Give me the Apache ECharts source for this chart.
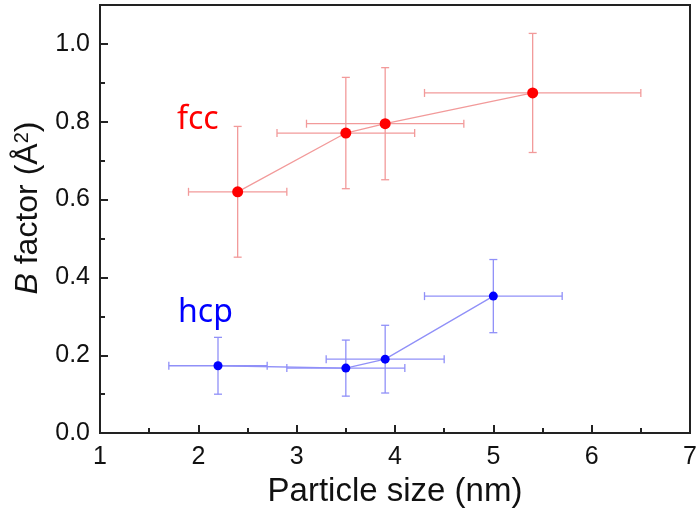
<!DOCTYPE html>
<html><head><meta charset="utf-8">
<script src="https://cdn.jsdelivr.net/npm/echarts@6/dist/echarts.min.js"></script>
<style>html,body{margin:0;padding:0;background:#fff}#c{width:700px;height:513px}</style>
</head><body><div id="c"></div>
<script>
const xTicks = [1, 2, 3, 4, 5, 6, 7];
const yTicks = [0.0, 0.2, 0.4, 0.6, 0.8, 1.0];

const fccX    = [2.4, 3.5, 3.9, 5.4];
const fccY    = [0.62, 0.771, 0.795, 0.874];
const fccXErr = [0.5, 0.7, 0.8, 1.1];
const fccYErr = [0.168, 0.143, 0.144, 0.153];

const hcpX    = [2.2, 3.5, 3.9, 5.0];
const hcpY    = [0.173, 0.167, 0.19, 0.352];
const hcpXErr = [0.5, 0.6, 0.6, 0.7];
const hcpYErr = [0.073, 0.072, 0.087, 0.094];

function errData(xs, ys, xe, ye) {
  return xs.map((x, i) => [x, ys[i], x - xe[i], x + xe[i], ys[i] - ye[i], ys[i] + ye[i]]);
}
function errRender(color) {
  return function (params, api) {
    const c = api.coord([api.value(0), api.value(1)]);
    const xl = api.coord([api.value(2), api.value(1)]);
    const xr = api.coord([api.value(3), api.value(1)]);
    const yl = api.coord([api.value(0), api.value(4)]);
    const yh = api.coord([api.value(0), api.value(5)]);
    const st = { stroke: color, lineWidth: 1.3 };
    const cap = 4;
    const L = (x1, y1, x2, y2) => ({ type: 'line', shape: { x1, y1, x2, y2 }, style: st });
    return {
      type: 'group',
      children: [
        L(xl[0], c[1], xr[0], c[1]),
        L(xl[0], c[1] - cap, xl[0], c[1] + cap),
        L(xr[0], c[1] - cap, xr[0], c[1] + cap),
        L(c[0], yl[1], c[0], yh[1]),
        L(c[0] - cap, yl[1], c[0] + cap, yl[1]),
        L(c[0] - cap, yh[1], c[0] + cap, yh[1])
      ]
    };
  };
}
const redLight = '#f29a9a';
const blueLight = '#9090f8';
const FF = 'Liberation Sans, Arial, sans-serif';
const chart = echarts.init(document.getElementById('c'));
const axisFont = { fontFamily: FF, fontSize: 25, color: '#111' };
chart.setOption({
  animation: false,
  grid: { left: 100, right: 10, top: 5, bottom: 78, show: true, borderColor: '#222', borderWidth: 2 },
  xAxis: {
    type: 'value', min: xTicks[0], max: xTicks[xTicks.length - 1], interval: 1,
    axisLine: { lineStyle: { color: '#222', width: 2 } },
    axisTick: { inside: true, length: 8, lineStyle: { color: '#222', width: 2 } },
    minorTick: { show: true, splitNumber: 2, length: 5, lineStyle: { color: '#222', width: 2 } },
    splitLine: { show: false },
    axisLabel: Object.assign({ margin: 12 }, axisFont),
    name: 'Particle size (nm)', nameLocation: 'middle', nameGap: 38,
    nameTextStyle: { fontFamily: FF, fontSize: 33, color: '#111' }
  },
  yAxis: {
    type: 'value', min: 0, max: 1.1, interval: 0.2,
    axisLine: { lineStyle: { color: '#222', width: 2 } },
    axisTick: { inside: true, length: 8, lineStyle: { color: '#222', width: 2 } },
    minorTick: { show: true, splitNumber: 2, length: 5, lineStyle: { color: '#222', width: 2 } },
    splitLine: { show: false },
    axisLabel: Object.assign({ margin: 10, formatter: v => (yTicks.some(t => Math.abs(t - v) < 1e-9) ? v.toFixed(1) : '') }, axisFont),
    name: '{i|B} factor (Å{s|2})', nameLocation: 'middle', nameGap: 56, nameRotate: 90,
    nameTextStyle: {
      fontFamily: FF, fontSize: 32, color: '#111', padding: [0, 0, 0, 22],
      rich: {
        i: { fontStyle: 'italic', fontSize: 32, fontFamily: FF, color: '#111' },
        s: { fontSize: 20, verticalAlign: 'top', padding: [0, 0, 12, 0], fontFamily: FF, color: '#111' }
      }
    }
  },
  series: [
    { type: 'custom', data: errData(fccX, fccY, fccXErr, fccYErr), renderItem: errRender(redLight), z: 1 },
    { type: 'custom', data: errData(hcpX, hcpY, hcpXErr, hcpYErr), renderItem: errRender(blueLight), z: 1 },
    { type: 'line', data: fccX.map((x, i) => [x, fccY[i]]), symbol: 'circle', symbolSize: 11,
      lineStyle: { color: redLight, width: 1.3 }, itemStyle: { color: '#ff0000' }, z: 3 },
    { type: 'line', data: hcpX.map((x, i) => [x, hcpY[i]]), symbol: 'circle', symbolSize: 9,
      lineStyle: { color: blueLight, width: 1.3 }, itemStyle: { color: '#0000ff' }, z: 3 }
  ],
  graphic: [
    { type: 'text', left: 177, top: 104, style: { text: 'fcc', fill: '#ff0000', font: '32px "Noto Sans"' } },
    { type: 'text', left: 178, top: 297, style: { text: 'hcp', fill: '#0000ff', font: '32px "Noto Sans"' } }
  ]
});
</script></body></html>
